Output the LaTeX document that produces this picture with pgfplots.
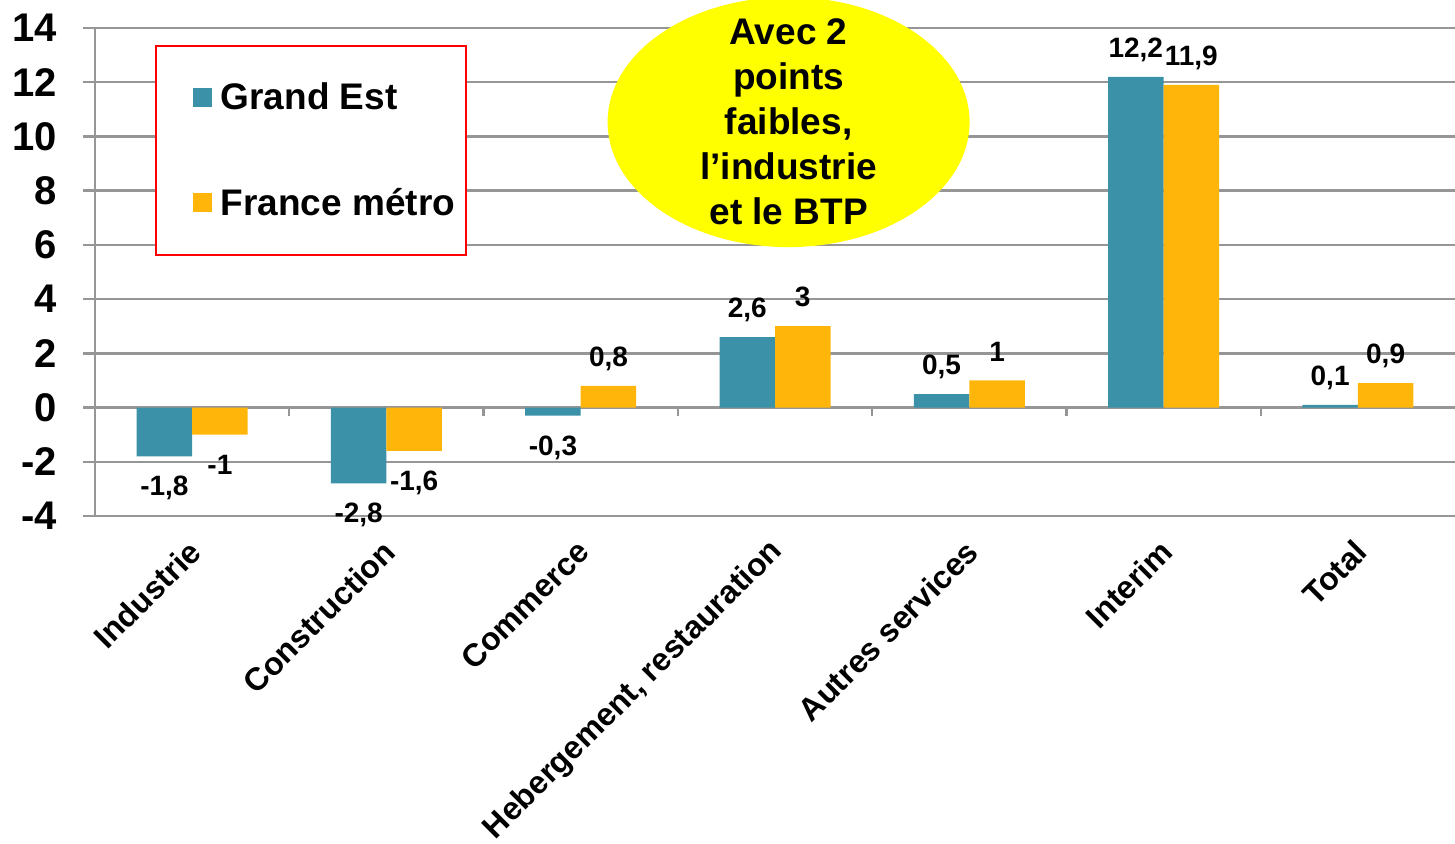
\documentclass[border=0pt]{standalone}
\usepackage{fontspec}
\setmainfont{Liberation Sans}
\usepackage{pgfplots}
\pgfplotsset{compat=1.18}
\usetikzlibrary{shapes.geometric}
\definecolor{teal1}{RGB}{59,145,167}
\definecolor{gold1}{RGB}{255,181,10}
\definecolor{gridgray}{RGB}{150,150,150}
\definecolor{yel}{RGB}{255,255,0}
\begin{document}
\begin{tikzpicture}
\useasboundingbox (-47.5pt,-163.5pt) rectangle (680pt,258pt);
\begin{axis}[
  at={(0pt,0pt)}, anchor=south west,
  scale only axis, width=680pt, height=244pt,
  clip=false,
  /pgf/number format/assume math mode=true,
  /pgf/number format/use comma,
  ybar=0pt, bar width=27.75pt,
  xmin=-0.5, xmax=6.5, ymin=-4, ymax=14,
  ytick={-4,-2,...,14},
  xtick={0,...,6},
  xticklabels={Industrie,Construction,Commerce,{Hebergement, restauration},Autres services,Interim,Total},
  x tick style={draw=none},
  axis lines*=left,
  axis line style={gridgray, line width=1.2pt},
  ymajorgrids, grid style={gridgray, line width=1.2pt},
  ytick align=outside, major tick length=6pt,
  y tick style={gridgray, line width=1.2pt},
  yticklabel style={font=\bfseries\fontsize{20}{20}\selectfont, anchor=east, inner sep=0pt, xshift=-13pt},
  xticklabel style={font=\bfseries\fontsize{16}{16}\selectfont, rotate=45, anchor=east, inner sep=0pt, xshift=-5.3pt, yshift=-7.6pt},
  nodes near coords,
  nodes near coords style={font=\bfseries\fontsize{14}{14}\selectfont, inner xsep=0pt, inner ysep=9.5pt, text depth=0pt, text height=10pt, black},
  legend style={at={(0.0441,0.9652)}, anchor=north west, draw=red, line width=0.8pt,
    font=\bfseries\fontsize{18.5}{20}\selectfont, nodes={inner sep=0pt},
    inner xsep=5.5pt, inner ysep=18.4pt, row sep=37.75pt, column sep=4.5pt,
    cells={anchor=west}},
  legend image code/.code={\path (-13pt,0pt); \fill[#1] (0pt,-4.75pt) rectangle (9.5pt,4.75pt);},
]
\addplot[fill=teal1, draw=none] coordinates {(0,-1.8) (1,-2.8) (2,-0.3) (3,2.6) (4,0.5) (5,12.2) (6,0.1)};
\addlegendentry{Grand Est}
\addplot[fill=gold1, draw=none] coordinates {(0,-1) (1,-1.6) (2,0.8) (3,3) (4,1) (5,11.9) (6,0.9)};
\addlegendentry{France métro}
\pgfplotsinvokeforeach{0.5,1.5,2.5,3.5,4.5,5.5}{\draw[gridgray, line width=1.2pt] (axis cs:#1,0) -- ++(0pt,-4pt);}
\fill[yel] (axis cs:3.07,10.53) ellipse [x radius=90.5pt, y radius=62.5pt];
\node[align=center, font=\bfseries\fontsize{18.5}{22.5}\selectfont, inner sep=0pt] at (axis cs:3.07,10.53) {Avec 2\\points\\faibles,\\l’industrie\\et le BTP};
\end{axis}
\end{tikzpicture}
\end{document}
